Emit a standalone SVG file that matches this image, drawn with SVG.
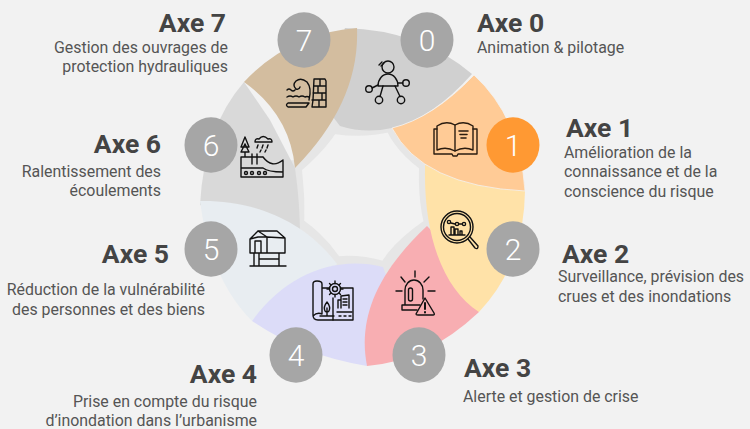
<svg xmlns="http://www.w3.org/2000/svg" width="750" height="429" viewBox="0 0 750 429">
<style>
.t{font-family:Roboto,"Liberation Sans",sans-serif;font-weight:700;font-size:26.5px;fill:#444}
.b{font-family:Roboto,"Liberation Sans",sans-serif;font-size:15.9px;fill:#555}
.e{text-anchor:end}
.n{font-family:Roboto,"Liberation Sans",sans-serif;font-weight:300;font-size:30px;fill:#fff;text-anchor:middle}
.c{fill:#a6a6a6}
.band{fill:none;stroke:#e6e6e6;stroke-width:12}
.i{fill:none;stroke:#111;stroke-width:1.4;stroke-linecap:round;stroke-linejoin:round}
</style>
<rect width="750" height="429" fill="#f2f2f2"/>
<g id="connectors" class="band">
<path d="M345,100Q335,135 295,168"/>
<path d="M335,128Q380,135 420,115"/>
<path d="M392,128Q405,155 440,175"/>
<path d="M425,168C424,200 428,225 440,250"/>
<path d="M427,226C400,245 380,265 372,300"/>
<path d="M383,267C340,255 300,265 280,290"/>
<path d="M337,264C325,245 310,230 280,212"/>
<path d="M295,160C298,190 300,210 297,235"/>
</g>
<g id="petals">
<path fill="#d0d0d0" d="M345,28Q420,30 472,74Q433,118 392,128Q365,134 340,126L320,100Z"/>
<path fill="#d9d9d9" d="M244,82Q204,128 200,205L300,240C300,210 298,190 295,168L270,120Z"/>
<path fill="#e8edf1" d="M200,201C245,200 300,215 337,264L300,300L252,321Q210,279 200,201Z"/>
<path fill="#dcdcf8" d="M252,321C285,275 335,255 383,267L395,300L367,366Q303,356 252,321Z"/>
<path fill="#f8aeb2" d="M479,312Q427,361 367,366C358,320 375,275 427,226L460,260Z"/>
<path fill="#ffe2a8" d="M425,165L525,185L525,191Q524,265 479,312C445,290 424,240 425,170Z"/>
<path fill="#ffcb96" stroke="#f2f2f2" stroke-width=".8" d="M474,75Q520,117 525,191Q422,186 392,128Q433,118 474,75Z"/>
<path fill="#d3bd9f" d="M244,82Q290,33 357,28Q360,102 295,168Q290,115 244,82Z"/>
</g>
<g id="node-0">
<ellipse class="c" cx="427" cy="40" rx="26.500" ry="27.700"/>
<text class="n" x="427" y="50.500">0</text>
<text class="t" x="477" y="32">Axe 0</text>
<text class="b" x="477" y="53">Animation &amp; pilotage</text>
<g class="i"><circle cx="388" cy="67" r="6"/><path d="M378,86A10,12 0 0 1 398,86Z"/><circle cx="369" cy="89" r="3.300"/><circle cx="379" cy="100" r="3.700"/><circle cx="401" cy="100" r="3.700"/><circle cx="406" cy="83" r="3.300"/><path d="M378,85L372,88M383,86L380,96.500M395,86L400,96.500M398,83L403,83M379,65L382,62M381,66L384,63"/></g>
</g>
<g id="node-1">
<ellipse cx="513" cy="145" rx="26.500" ry="27.700" fill="#ff9933"/>
<text class="n" x="513" y="155.500">1</text>
<text class="t" x="566" y="137">Axe 1</text>
<text class="b" x="564" y="158">Amélioration de la</text>
<text class="b" x="564" y="177">connaissance et de la</text>
<text class="b" x="564" y="197">conscience du risque</text>
<g class="i" style="stroke:#2a1c10"><path d="M437,126Q446,120 455,125Q464,120 473,126L473,150Q464,146 455,151Q446,146 437,150Z"/><path d="M455,125L455,151M437,129L434,129L434,154L452,154L453,156L457,156L458,154L477,154L477,129L473,129"/><path style="stroke-width:1.600" d="M459,131L468,131M460,134.500L467,134.500M461,138L466,138"/></g>
</g>
<g id="node-2">
<ellipse class="c" cx="513" cy="249" rx="26.500" ry="27.700"/>
<text class="n" x="513" y="259.500">2</text>
<text class="t" x="562" y="263">Axe 2</text>
<text class="b" x="558" y="282">Surveillance, prévision des</text>
<text class="b" x="558" y="302">crues et des inondations</text>
<g class="i"><circle cx="457" cy="227" r="16"/><circle cx="457" cy="227" r="13.500"/><path d="M468,239L475,248Q478,250 478,246L470,237"/><circle cx="449" cy="222" r="1.600"/><circle cx="457" cy="224" r="1.600"/><circle cx="464" cy="224" r="1.600"/><path d="M451,223L455,224M459,224L462,224M449,235L465,235M451,235L451,227L454,227L454,235M455,235L455,229L458,229L458,235M460,235L460,231L462,231L462,235"/></g>
</g>
<g id="node-3">
<ellipse class="c" cx="419" cy="355" rx="26.500" ry="27.700"/>
<text class="n" x="419" y="365.500">3</text>
<text class="t" x="464" y="377">Axe 3</text>
<text class="b" x="463" y="402">Alerte et gestion de crise</text>
<g class="i"><path d="M405,305L405,290A9,10 0 0 1 423,290L423,299M402,310L402,305L420,305M402,310L417,310"/><rect x="408.500" y="288" width="4" height="13" rx="2"/><path d="M415,271L415,277M401,277L405,282M429,277L424,282M396,291L402,291M428,291L435,291"/><path d="M425,298L416,314Q416,315 418,315L433,315Q435,315 434,313Z"/><path style="stroke-width:2" d="M425,303L425,309M425,312L425,312.500"/></g>
</g>
<g id="node-4">
<ellipse class="c" cx="296" cy="355" rx="26.500" ry="27.700"/>
<text class="n" x="296" y="365.500">4</text>
<text class="t e" x="257" y="383">Axe 4</text>
<text class="b e" x="257" y="407">Prise en compte du risque</text>
<text class="b e" x="257" y="425.500">d’inondation dans l’urbanisme</text>
<g class="i"><path d="M322,288L353,288L353,320L318,320Q313,320 313,315L313,284Q313,281 317,281Q322,281 322,284L322,314Q317,312 313,316"/><circle cx="335" cy="289" r="5.500" fill="#dcdcf8"/><circle cx="335" cy="289" r="2.500"/><path d="M335,281L335,283.500M335,294.500L335,297M327,289L329.500,289M340.500,289L343,289M329.500,283.500L331,285M340.500,283.500L339,285M329.500,294.500L331,293M340.500,294.500L339,293"/><path d="M327,302Q323,307 325,311Q327,313 329,311Q331,307 327,302ZM327,308L327,316M320,316L334,316M333,298L333,320M337,312L352,312M341,308L341,296L349,295L349,308M338,308L338,300L341,300"/><path d="M343,299L347,299M343,302L347,302M343,305L347,305M339,316L341,316M344,316L346,316M349,316L351,316"/></g>
</g>
<g id="node-5">
<ellipse class="c" cx="211" cy="249" rx="26.500" ry="27.700"/>
<text class="n" x="211" y="259.500">5</text>
<text class="t e" x="169" y="263">Axe 5</text>
<text class="b e" x="205" y="295">Réduction de la vulnérabilité</text>
<text class="b e" x="205" y="315">des personnes et des biens</text>
<g class="i"><path d="M250,253L250,239L258,231L277,231L285,238L285,253ZM250,239L258,237L267,237L267,253M258,231L267,237L285,238M255,253L255,241L261,241L261,253M254,253L254,266M259,253L259,266M279,253L279,266M259,259L279,259M250,266L286,266"/></g>
</g>
<g id="node-6">
<ellipse class="c" cx="211" cy="145" rx="26.500" ry="27.700"/>
<text class="n" x="211" y="155.500">6</text>
<text class="t e" x="161" y="153">Axe 6</text>
<text class="b e" x="161" y="177">Ralentissement des</text>
<text class="b e" x="161" y="196">écoulements</text>
<g class="i"><path d="M245,137L241,147L249,147ZM245,144L241,152L249,152L245,144M245,152L245,157M255,142Q255,138 259,139Q263,134 268,139Q272,138 272,142ZM258,145L257,148M263,145L262,148M268,145L267,148M261,150L260,152M266,150L265,152M241,157L263,157M241,157L241,177L283,177L283,161M241,168L263,168Q268,172 283,172M263,157Q272,169 283,160M252,154L252,164M257,154L257,164"/><circle cx="246" cy="173" r="1.500"/><circle cx="252" cy="173" r="1.500"/><circle cx="259" cy="173" r="1.500"/><circle cx="265" cy="173" r="1.500"/></g>
</g>
<g id="node-7">
<ellipse class="c" cx="304" cy="40" rx="26.500" ry="27.700"/>
<text class="n" x="304" y="50.500">7</text>
<text class="t e" x="226" y="32">Axe 7</text>
<text class="b e" x="228" y="53">Gestion des ouvrages de</text>
<text class="b e" x="228" y="72">protection hydrauliques</text>
<g class="i"><path d="M314,79L325,79L326,81L326,107L312,107L313,100ZM314,86L326,86M313,93L326,93M312,100L326,100M320,79L320,86M318,86L318,93M322,93L322,100M319,100L319,107"/><path d="M288,103L309,103L306,107L288,107Q285,105 288,103ZM309,100Q312,88 307,82Q301,77 296,81Q292,85 296,89Q299,90 300,87M287,90Q289,88 291,90Q293,92 295,90M287,97Q290,95 293,97Q296,95 299,97Q302,95 305,97Q307,96 309,97"/></g>
</g>
</svg>
